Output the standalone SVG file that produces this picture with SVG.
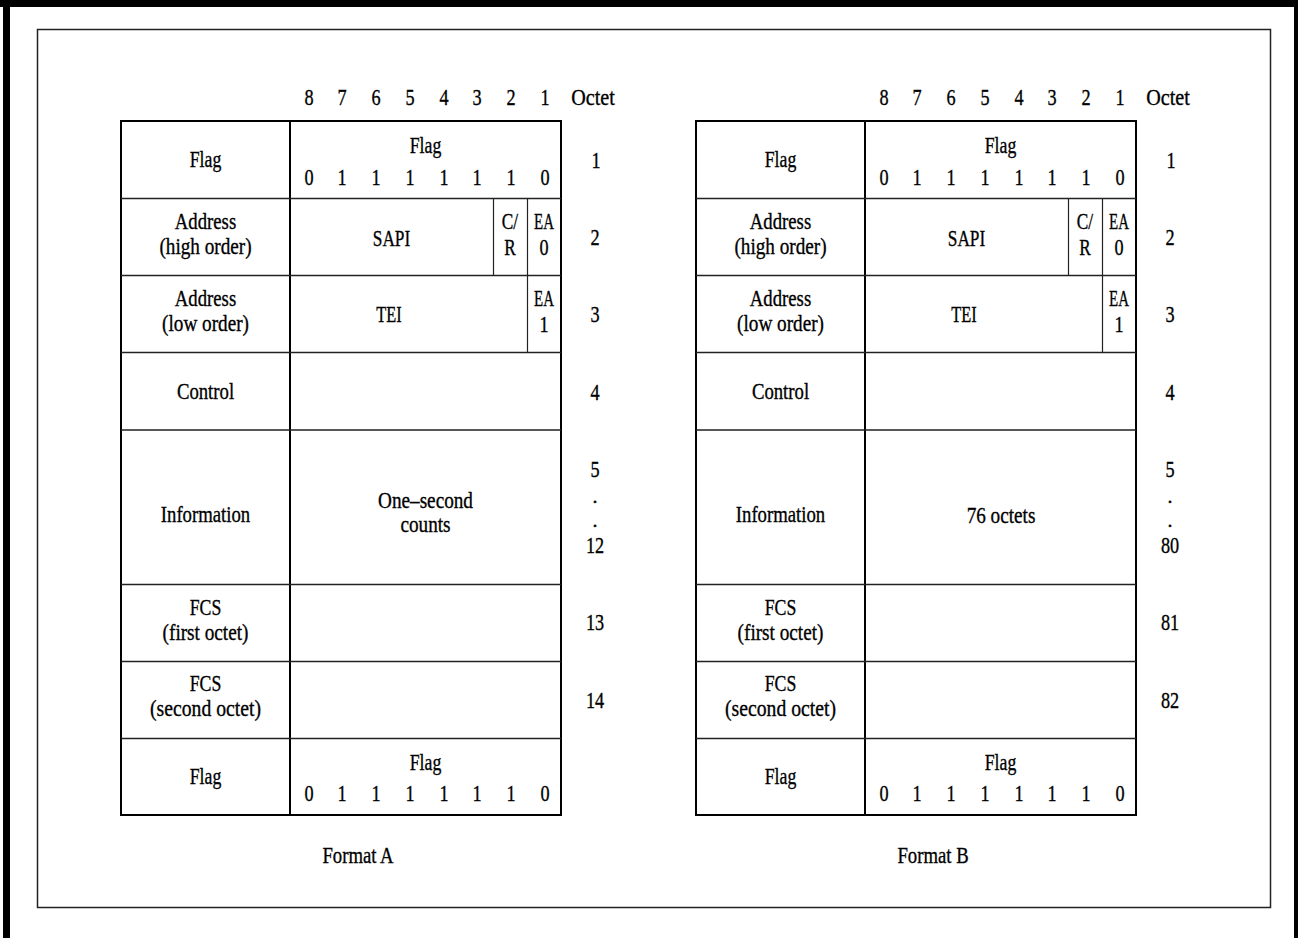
<svg xmlns="http://www.w3.org/2000/svg" width="1298" height="938" viewBox="0 0 1298 938">
<style>
text{font-family:"Liberation Serif","Times New Roman",serif;font-size:24px;fill:#000;stroke:#000;stroke-width:0.35;text-anchor:middle}
text.dot{font-size:18px;stroke-width:0.6}
text.sm{font-size:23px}
.frame{fill:#000}
.inner{fill:none;stroke:#222;stroke-width:1.5}
.box{fill:none;stroke:#000;stroke-width:2}
.row{stroke:#222;stroke-width:1.3;fill:none}
.div{stroke:#000;stroke-width:2}
.sub{stroke:#222;stroke-width:1.2}
</style>
<rect width="1298" height="938" fill="#fff"/>
<g id="page-frame">
<rect class="frame" x="0" y="0" width="1298" height="7"/>
<rect class="frame" x="3" y="0" width="7" height="938"/>
<rect class="frame" x="1294" y="0" width="4" height="938"/>
<rect class="inner" x="37.5" y="29.5" width="1233" height="878"/>
</g>
<g id="formatA">
<g id="A-grid" class="connectors">
<rect class="box" x="121" y="121" width="440" height="694"/>
<line class="div" x1="290" y1="121" x2="290" y2="815"/>
<path class="row" d="M121 198.5H561M121 275.5H561M121 352.5H561M121 430H561M121 584.5H561M121 661.5H561M121 738.5H561"/>
<line class="sub" x1="493.5" y1="198.5" x2="493.5" y2="275.5"/>
<line class="sub" x1="527.5" y1="198.5" x2="527.5" y2="352.5"/>
</g>
<g id="A-header">
<text transform="translate(309 105) scale(.76 1)">8</text>
<text transform="translate(342 105) scale(.76 1)">7</text>
<text transform="translate(376 105) scale(.76 1)">6</text>
<text transform="translate(410 105) scale(.76 1)">5</text>
<text transform="translate(444 105) scale(.76 1)">4</text>
<text transform="translate(477 105) scale(.76 1)">3</text>
<text transform="translate(511 105) scale(.76 1)">2</text>
<text transform="translate(545 105) scale(.76 1)">1</text>
<text transform="translate(593 105) scale(.84 1)">Octet</text>
</g>
<g id="A-row1">
<text transform="translate(205.5 167) scale(.74 1)">Flag</text>
<text transform="translate(425.5 153) scale(.74 1)">Flag</text>
<text transform="translate(309 184.5) scale(.76 1)">0</text>
<text transform="translate(342 184.5) scale(.76 1)">1</text>
<text transform="translate(376 184.5) scale(.76 1)">1</text>
<text transform="translate(410 184.5) scale(.76 1)">1</text>
<text transform="translate(444 184.5) scale(.76 1)">1</text>
<text transform="translate(477 184.5) scale(.76 1)">1</text>
<text transform="translate(511 184.5) scale(.76 1)">1</text>
<text transform="translate(545 184.5) scale(.76 1)">0</text>
<text transform="translate(596 168) scale(.76 1)">1</text>
</g>
<g id="A-row2">
<text transform="translate(205.5 228.5) scale(.78 1)">Address</text>
<text transform="translate(205.5 253.5) scale(.8 1)">(high order)</text>
<text transform="translate(391.5 245.5) scale(.72 1)">SAPI</text>
<text class="sm" transform="translate(510 228.5) scale(.75 1)">C/</text>
<text class="sm" transform="translate(510 255) scale(.75 1)">R</text>
<text class="sm" transform="translate(544 228.5) scale(.65 1)">EA</text>
<text class="sm" transform="translate(544 255) scale(.79 1)">0</text>
<text transform="translate(595 245) scale(.76 1)">2</text>
</g>
<g id="A-row3">
<text transform="translate(205.5 305.5) scale(.78 1)">Address</text>
<text transform="translate(205.5 330.5) scale(.8 1)">(low order)</text>
<text transform="translate(389 322) scale(.68 1)">TEI</text>
<text class="sm" transform="translate(544 306) scale(.65 1)">EA</text>
<text class="sm" transform="translate(544 331.5) scale(.79 1)">1</text>
<text transform="translate(595 322) scale(.76 1)">3</text>
</g>
<g id="A-row4">
<text transform="translate(205.5 399) scale(.78 1)">Control</text>
<text transform="translate(595 399.5) scale(.76 1)">4</text>
</g>
<g id="A-row5">
<text transform="translate(205.5 522) scale(.78 1)">Information</text>
<text transform="translate(425.5 508) scale(.8 1)">One–second</text>
<text transform="translate(425.5 532) scale(.8 1)">counts</text>
<text transform="translate(595 477) scale(.76 1)">5</text>
<text class="dot" transform="translate(595 503)">.</text>
<text class="dot" transform="translate(595 527)">.</text>
<text transform="translate(595 552.5) scale(.76 1)">12</text>
</g>
<g id="A-row6">
<text transform="translate(205.5 615) scale(.74 1)">FCS</text>
<text transform="translate(205.5 640) scale(.8 1)">(first octet)</text>
<text transform="translate(595 630) scale(.76 1)">13</text>
</g>
<g id="A-row7">
<text transform="translate(205.5 691) scale(.74 1)">FCS</text>
<text transform="translate(205.5 716) scale(.82 1)">(second octet)</text>
<text transform="translate(595 707.5) scale(.76 1)">14</text>
</g>
<g id="A-row8">
<text transform="translate(205.5 784) scale(.74 1)">Flag</text>
<text transform="translate(425.5 770) scale(.74 1)">Flag</text>
<text transform="translate(309 801) scale(.76 1)">0</text>
<text transform="translate(342 801) scale(.76 1)">1</text>
<text transform="translate(376 801) scale(.76 1)">1</text>
<text transform="translate(410 801) scale(.76 1)">1</text>
<text transform="translate(444 801) scale(.76 1)">1</text>
<text transform="translate(477 801) scale(.76 1)">1</text>
<text transform="translate(511 801) scale(.76 1)">1</text>
<text transform="translate(545 801) scale(.76 1)">0</text>
</g>
<g id="A-caption">
<text transform="translate(358 863) scale(.78 1)">Format A</text>
</g>
</g>
<g id="formatB">
<g id="B-grid" class="connectors">
<rect class="box" x="696" y="121" width="440" height="694"/>
<line class="div" x1="865" y1="121" x2="865" y2="815"/>
<path class="row" d="M696 198.5H1136M696 275.5H1136M696 352.5H1136M696 430H1136M696 584.5H1136M696 661.5H1136M696 738.5H1136"/>
<line class="sub" x1="1068.5" y1="198.5" x2="1068.5" y2="275.5"/>
<line class="sub" x1="1102.5" y1="198.5" x2="1102.5" y2="352.5"/>
</g>
<g id="B-header">
<text transform="translate(884 105) scale(.76 1)">8</text>
<text transform="translate(917 105) scale(.76 1)">7</text>
<text transform="translate(951 105) scale(.76 1)">6</text>
<text transform="translate(985 105) scale(.76 1)">5</text>
<text transform="translate(1019 105) scale(.76 1)">4</text>
<text transform="translate(1052 105) scale(.76 1)">3</text>
<text transform="translate(1086 105) scale(.76 1)">2</text>
<text transform="translate(1120 105) scale(.76 1)">1</text>
<text transform="translate(1168 105) scale(.84 1)">Octet</text>
</g>
<g id="B-row1">
<text transform="translate(780.5 167) scale(.74 1)">Flag</text>
<text transform="translate(1000.5 153) scale(.74 1)">Flag</text>
<text transform="translate(884 184.5) scale(.76 1)">0</text>
<text transform="translate(917 184.5) scale(.76 1)">1</text>
<text transform="translate(951 184.5) scale(.76 1)">1</text>
<text transform="translate(985 184.5) scale(.76 1)">1</text>
<text transform="translate(1019 184.5) scale(.76 1)">1</text>
<text transform="translate(1052 184.5) scale(.76 1)">1</text>
<text transform="translate(1086 184.5) scale(.76 1)">1</text>
<text transform="translate(1120 184.5) scale(.76 1)">0</text>
<text transform="translate(1171 168) scale(.76 1)">1</text>
</g>
<g id="B-row2">
<text transform="translate(780.5 228.5) scale(.78 1)">Address</text>
<text transform="translate(780.5 253.5) scale(.8 1)">(high order)</text>
<text transform="translate(966.5 245.5) scale(.72 1)">SAPI</text>
<text class="sm" transform="translate(1085 228.5) scale(.75 1)">C/</text>
<text class="sm" transform="translate(1085 255) scale(.75 1)">R</text>
<text class="sm" transform="translate(1119 228.5) scale(.65 1)">EA</text>
<text class="sm" transform="translate(1119 255) scale(.79 1)">0</text>
<text transform="translate(1170 245) scale(.76 1)">2</text>
</g>
<g id="B-row3">
<text transform="translate(780.5 305.5) scale(.78 1)">Address</text>
<text transform="translate(780.5 330.5) scale(.8 1)">(low order)</text>
<text transform="translate(964 322) scale(.68 1)">TEI</text>
<text class="sm" transform="translate(1119 306) scale(.65 1)">EA</text>
<text class="sm" transform="translate(1119 331.5) scale(.79 1)">1</text>
<text transform="translate(1170 322) scale(.76 1)">3</text>
</g>
<g id="B-row4">
<text transform="translate(780.5 399) scale(.78 1)">Control</text>
<text transform="translate(1170 399.5) scale(.76 1)">4</text>
</g>
<g id="B-row5">
<text transform="translate(780.5 522) scale(.78 1)">Information</text>
<text transform="translate(1001 523) scale(.8 1)">76 octets</text>
<text transform="translate(1170 477) scale(.76 1)">5</text>
<text class="dot" transform="translate(1170 503)">.</text>
<text class="dot" transform="translate(1170 527)">.</text>
<text transform="translate(1170 552.5) scale(.76 1)">80</text>
</g>
<g id="B-row6">
<text transform="translate(780.5 615) scale(.74 1)">FCS</text>
<text transform="translate(780.5 640) scale(.8 1)">(first octet)</text>
<text transform="translate(1170 630) scale(.76 1)">81</text>
</g>
<g id="B-row7">
<text transform="translate(780.5 691) scale(.74 1)">FCS</text>
<text transform="translate(780.5 716) scale(.82 1)">(second octet)</text>
<text transform="translate(1170 707.5) scale(.76 1)">82</text>
</g>
<g id="B-row8">
<text transform="translate(780.5 784) scale(.74 1)">Flag</text>
<text transform="translate(1000.5 770) scale(.74 1)">Flag</text>
<text transform="translate(884 801) scale(.76 1)">0</text>
<text transform="translate(917 801) scale(.76 1)">1</text>
<text transform="translate(951 801) scale(.76 1)">1</text>
<text transform="translate(985 801) scale(.76 1)">1</text>
<text transform="translate(1019 801) scale(.76 1)">1</text>
<text transform="translate(1052 801) scale(.76 1)">1</text>
<text transform="translate(1086 801) scale(.76 1)">1</text>
<text transform="translate(1120 801) scale(.76 1)">0</text>
</g>
<g id="B-caption">
<text transform="translate(933 863) scale(.78 1)">Format B</text>
</g>
</g>
</svg>
